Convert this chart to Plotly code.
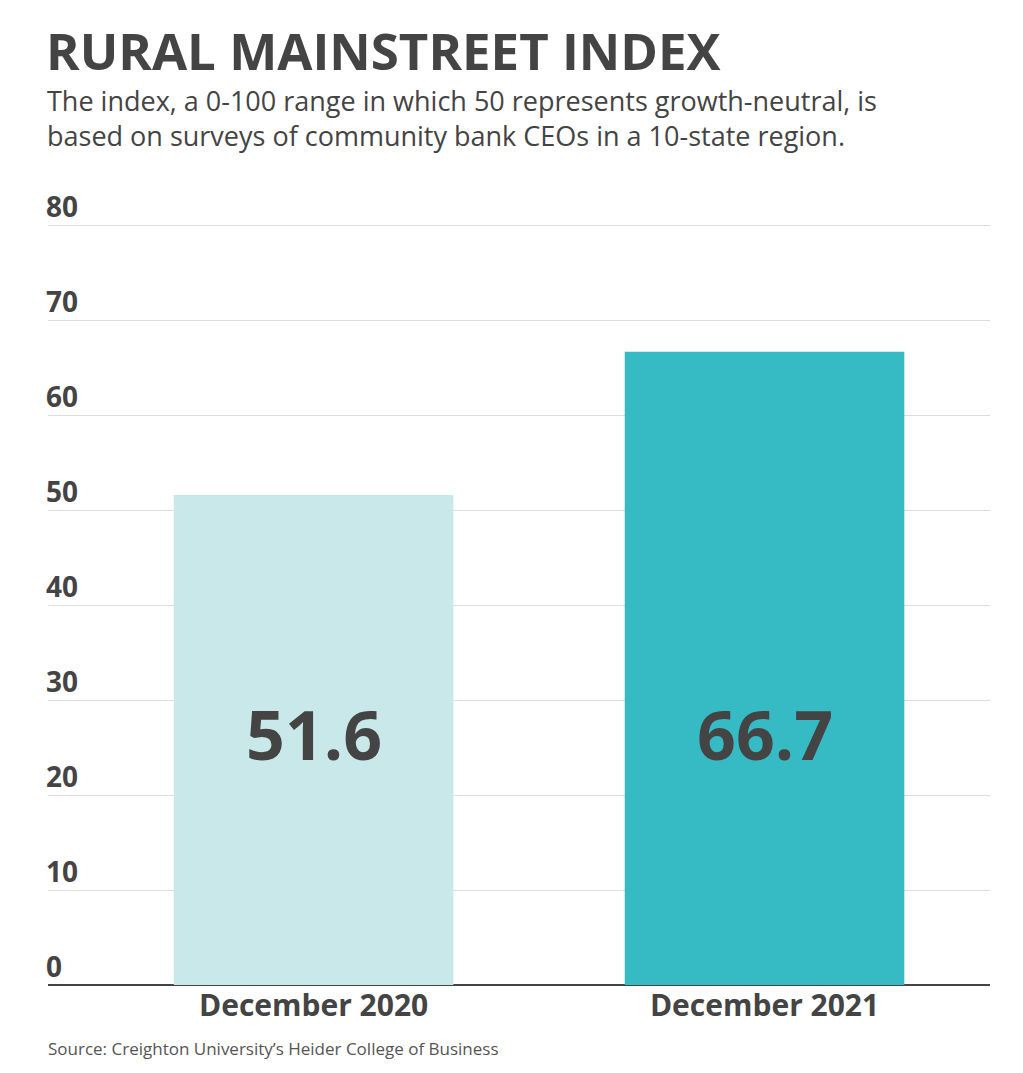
import plotly.graph_objects as go

categories = ["December 2020", "December 2021"]
values = [51.6, 66.7]
bar_colors = ["#c8e8ea", "#36bbc4"]
value_labels = ["51.6", "66.7"]
label_level = 26.5
y_ticks = [0, 10, 20, 30, 40, 50, 60, 70, 80]
y_tick_labels = ["0", "10", "20", "30", "40", "50", "60", "70", "80"]

title = "RURAL MAINSTREET INDEX"
subtitle = ("The index, a 0-100 range in which 50 represents growth-neutral, is<br>"
            "based on surveys of community bank CEOs in a 10-state region.")
source = "Source: Creighton University’s Heider College of Business"

FONT = "Open Sans"
TXT = "#444444"

fig = go.Figure()
fig.add_trace(go.Bar(
    x=categories, y=values, marker=dict(color=bar_colors, line=dict(width=0)),
    width=0.62, hoverinfo="skip"
))

for c, v in zip(categories, value_labels):
    fig.add_annotation(x=c, y=label_level, text=v, showarrow=False,
                       font=dict(family=FONT, size=68, color=TXT, weight="bold"),
                       xref="x", yref="y", yanchor="middle")

for t, lab in zip(y_ticks, y_tick_labels):
    fig.add_annotation(xref="paper", yref="y", x=0, y=t, xanchor="left", yanchor="bottom",
                       yshift=-2, xshift=-4, text=lab, showarrow=False,
                       font=dict(family=FONT, size=28, color=TXT, weight="bold"))

fig.add_annotation(xref="paper", yref="paper", x=0, y=1.0, xanchor="left", yanchor="middle",
                   yshift=166, xshift=-4, text=title, showarrow=False,
                   font=dict(family=FONT, size=51, color=TXT, weight="bold"))
fig.add_annotation(xref="paper", yref="paper", x=0, y=1.0, xanchor="left", yanchor="middle",
                   yshift=98, xshift=-3, text=subtitle, showarrow=False, align="left",
                   font=dict(family=FONT, size=27, color=TXT))
fig.add_annotation(xref="paper", yref="paper", x=0, y=0, xanchor="left", yanchor="middle",
                   yshift=-63, xshift=-2, text=source, showarrow=False,
                   font=dict(family=FONT, size=17, color="#555555"))

fig.update_layout(
    width=1023, height=1073,
    margin=dict(l=40, r=41, t=208, b=96),
    paper_bgcolor="white", plot_bgcolor="white",
    showlegend=False,
    bargap=0.38,
    font=dict(family=FONT, color=TXT),
    xaxis=dict(range=[-0.589, 1.5], showgrid=False, showline=False, ticks="",
               tickfont=dict(family=FONT, size=30, color=TXT, weight="bold"),
               fixedrange=True),
    yaxis=dict(range=[0, 81], tickvals=y_ticks, showgrid=True, gridcolor="#dddddd", gridwidth=1,
               zeroline=True, zerolinecolor="#444444", zerolinewidth=2,
               showticklabels=False, ticks="", showline=False, fixedrange=True),
)

fig.write_html("out.html")
